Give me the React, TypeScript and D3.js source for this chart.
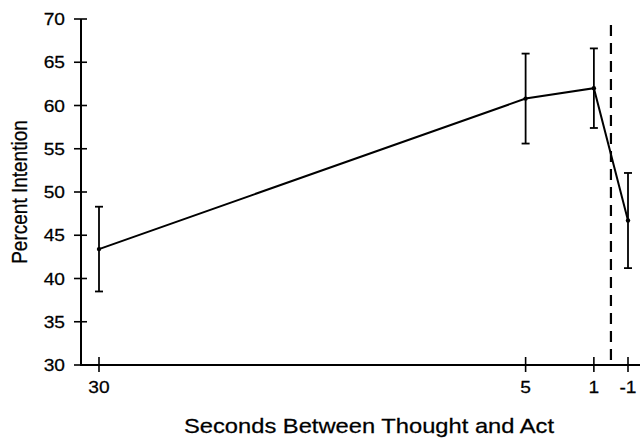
import React from "react";
import * as d3 from "d3";

// seconds before the act (negative = after)
const seconds = [30, 5, 1, -1];
const percentIntention = [43.4, 60.8, 62.0, 46.7];
const errorHalf = [4.9, 5.2, 4.6, 5.5];
const xTickLabels = ["30", "5", "1", "-1"];
const yTicks = [30, 35, 40, 45, 50, 55, 60, 65, 70];
const actTime = 0;

const W = 640;
const H = 440;
const font = "'Liberation Sans', Arial, sans-serif";
// the scanned figure is a bit wider than tall, so text gets stretched too
const stretch = 1.13;

const Label = ({ x, y, size, anchor = "middle", rotate = 0, children }: any) => (
  <text
    transform={`translate(${x},${y}) scale(${stretch},1) rotate(${rotate})`}
    textAnchor={anchor}
    fontFamily={font}
    fontSize={size}
    fill="#000"
    stroke="#000"
    strokeWidth={0.25}
  >
    {children}
  </text>
);

export default function App() {
  const axisLeft = 81;
  const axisBottom = 365;
  const top = 19;

  const x = d3.scaleLinear().domain([30, -1]).range([99, 628]);
  const y = d3.scaleLinear().domain([30, 70]).range([axisBottom, top]);

  const line = d3
    .line<number>()
    .x((_, i) => x(seconds[i]))
    .y(d => y(d));

  return (
    <svg
      width={W}
      height={H}
      style={{ position: "absolute", left: 0, top: 0, background: "#fff" }}
    >
      {/* axes */}
      <line x1={axisLeft} x2={axisLeft} y1={top} y2={axisBottom} stroke="#000" strokeWidth={2} />
      <line x1={axisLeft - 1} x2={W} y1={axisBottom} y2={axisBottom} stroke="#000" strokeWidth={2} />

      {yTicks.map(t => (
        <g key={t}>
          <line x1={axisLeft - 7} x2={axisLeft + 6} y1={y(t)} y2={y(t)} stroke="#000" strokeWidth={1.6} />
          <Label x={65} y={y(t) + 6} size={17} anchor="end">
            {t}
          </Label>
        </g>
      ))}

      {seconds.map((s, i) => (
        <g key={s}>
          <line x1={x(s)} x2={x(s)} y1={axisBottom - 8} y2={axisBottom + 7} stroke="#000" strokeWidth={1.6} />
          <Label x={x(s)} y={393} size={17}>
            {xTickLabels[i]}
          </Label>
        </g>
      ))}

      {/* moment of the act */}
      <line
        x1={x(actTime)}
        x2={x(actTime)}
        y1={25}
        y2={axisBottom}
        stroke="#000"
        strokeWidth={2.2}
        strokeDasharray="11 7"
      />

      {/* error bars */}
      {seconds.map((s, i) => {
        const cx = x(s);
        const hi = y(percentIntention[i] + errorHalf[i]);
        const lo = y(percentIntention[i] - errorHalf[i]);
        return (
          <g key={"e" + s} stroke="#000" strokeWidth={1.8}>
            <line x1={cx} x2={cx} y1={hi} y2={lo} />
            <line x1={cx - 4} x2={cx + 4} y1={hi} y2={hi} />
            <line x1={cx - 4} x2={cx + 4} y1={lo} y2={lo} />
          </g>
        );
      })}

      <path d={line(percentIntention) || ""} fill="none" stroke="#000" strokeWidth={2} />
      {seconds.map((s, i) => (
        <circle key={"p" + s} cx={x(s)} cy={y(percentIntention[i])} r={2.2} fill="#000" />
      ))}

      {/* axis titles */}
      <Label x={27} y={192} size={19} rotate={-90}>
        Percent Intention
      </Label>
      <Label x={369} y={433} size={21}>
        Seconds Between Thought and Act
      </Label>
    </svg>
  );
}
